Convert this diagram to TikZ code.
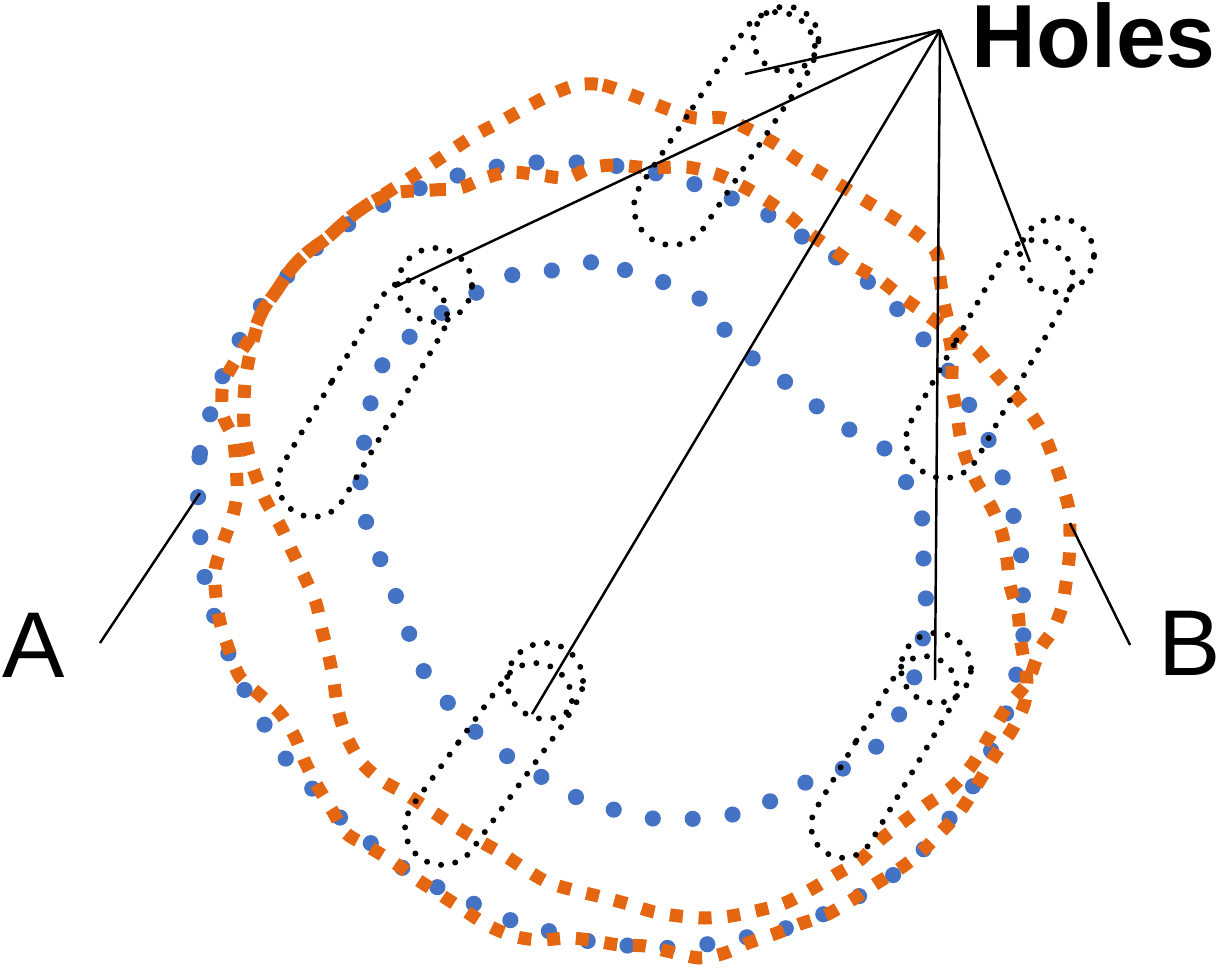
\documentclass[tikz,border=0pt]{standalone}
\usepackage{fontspec}
\setmainfont{Liberation Sans}
\usetikzlibrary{shapes.misc}

\definecolor{dotblue}{RGB}{68,114,196}
\definecolor{dashorange}{RGB}{228,102,16}

\begin{document}
\begin{tikzpicture}[x=0.1mm, y=-0.1mm,
    blueline/.style={draw=dotblue, line width=4.6pt, line cap=round, dash pattern=on 0pt off 11.4pt},
    orangeline/.style={draw=dashorange, line width=3.7pt, dash pattern=on 3.7pt off 4.5pt},
    holeline/.style={draw=black, line width=1.7pt, line cap=round, dash pattern=on 0pt off 4.1pt},
    holecap/.style={holeline, rounded rectangle, inner sep=0pt},
    leader/.style={draw=black, line width=0.7pt}]

    % Fix the size of the picture (pixel units, y pointing down)
    \useasboundingbox (0,0) rectangle (1219,969);

    % Outer blue contour
    \draw[blueline] plot[smooth cycle] coordinates {
      (198,493) (200,453) (210,415) (223,375) (245,330) (267,298) (295,268) (323,242)
      (355,220) (393,200) (428,185) (467,173) (507,165) (547,162) (585,163) (624,167)
      (663,175) (703,187) (740,202) (778,220) (807,240) (843,262) (875,288) (903,315)
      (928,345) (953,377) (973,412) (992,447) (1005,485) (1015,522) (1022,562) (1023,602)
      (1023,642) (1015,680) (1004,720) (989,755) (969,793) (946,823) (921,852) (889,878)
      (852,900) (817,917) (780,930) (743,938) (702,945) (662,948) (622,945) (582,940)
      (545,930) (504,918) (470,902) (433,885) (398,865) (367,840) (335,813) (309,785)
      (283,755) (263,722) (243,687) (227,650) (213,612) (204,573) (200,533)};

    % Inner blue ring
    \draw[blueline] plot[smooth cycle] coordinates {
      (595,262) (625,270) (663,282) (699,298) (723,328) (751,357) (784,381) (815,405)
      (850,430) (883,447) (903,477) (921,512) (923,552) (926,590) (924,622) (920,660)
      (907,695) (890,732) (861,759) (830,774) (794,787) (767,803) (741,813) (702,818)
      (663,820) (625,812) (588,803) (552,783) (518,763) (484,740) (457,712) (430,683)
      (414,647) (401,610) (387,573) (370,537) (362,498) (360,460) (368,428) (373,388)
      (390,353) (422,328) (453,305) (482,290) (518,273) (557,270)};

    % Orange contour along the outer blue one
    \draw[orangeline] plot[smooth cycle] coordinates {
      (393,193) (433,190) (460,188) (485,178) (510,172) (540,175) (567,178) (590,168)
      (616,165) (650,168) (687,167) (719,175) (744,187) (766,200) (790,217) (809,233)
      (833,250) (857,267) (880,280) (903,298) (927,315) (947,332) (952,357) (952,387)
      (957,413) (960,435) (966,458) (977,483) (992,508) (1002,533) (1007,560) (1010,585)
      (1018,613) (1020,637) (1024,660) (1027,683) (1024,705) (1012,730) (995,755) (980,780)
      (961,810) (943,830) (920,853) (898,870) (877,883) (852,900) (826,915) (800,924)
      (777,933) (748,943) (725,953) (700,958) (671,952) (645,946) (619,945) (590,940)
      (567,938) (539,940) (513,936) (487,925) (464,910) (438,893) (415,878) (395,863)
      (369,847) (346,833) (332,810) (318,787) (305,762) (295,737) (280,713) (260,695)
      (240,677) (229,650) (220,622) (216,597) (215,570) (223,543) (233,515) (237,493)
      (236,465) (233,438) (223,415) (223,385) (237,358) (252,335) (262,312) (277,290)
      (292,268) (308,252) (327,238) (347,220) (367,205)};

    % Second orange contour (high at the top, bulging to the right)
    \draw[orangeline] plot[smooth cycle] coordinates {
      (577,85) (603,85) (637,97) (670,110) (695,118) (723,118) (750,130) (774,143)
      (798,160) (821,173) (845,188) (869,203) (892,217) (916,233) (936,252) (940,278)
      (944,303) (952,328) (977,350) (995,373) (1013,393) (1030,413) (1045,437) (1055,463)
      (1063,487) (1069,510) (1070,537) (1069,560) (1066,583) (1062,607) (1053,630) (1041,647)
      (1035,663) (1027,683) (1007,707) (989,737) (972,765) (952,787) (926,805) (903,822)
      (880,840) (860,860) (835,875) (810,890) (785,903) (760,910) (731,916) (705,918)
      (679,916) (654,912) (628,904) (602,897) (573,890) (547,882) (522,867) (501,853)
      (478,840) (453,825) (427,808) (404,793) (381,780) (361,762) (346,735) (338,710)
      (334,683) (329,657) (322,630) (316,603) (305,578) (293,553) (281,527) (267,503)
      (257,480) (248,452) (244,428) (244,400) (246,375) (252,345) (262,312) (277,290)
      (292,268) (308,252) (327,238) (347,220) (367,205) (388,192) (410,178) (433,163)
      (455,148) (477,134) (500,122) (525,108) (550,95)};

    % Holes: a slot with a round hole at its upper end
    \node[holecap, minimum width=26.5mm, minimum height=7.6mm, rotate=56.2] (slot1) at (724.5,128.5) {};
    \node[holecap, minimum width=26.4mm, minimum height=7.0mm, rotate=59.3] (slot2) at (362.5,398.5) {};
    \node[holecap, minimum width=23.2mm, minimum height=7.4mm, rotate=54.0] (slot3) at (488.5,764) {};
    \node[holecap, minimum width=22.4mm, minimum height=6.4mm, rotate=59.3] (slot4) at (884,757) {};
    \node[holecap, minimum width=26.2mm, minimum height=7.6mm, rotate=60.7] (slot5) at (989.5,359) {};
    \draw[holeline] (786,39) circle (3.25mm);
    \draw[holeline] (435,285) circle (3.7mm);
    \draw[holeline] (545,681) circle (3.8mm);
    \draw[holeline] (936,668) circle (3.5mm);
    \draw[holeline] (1057,255) circle (3.7mm);

    % Labels
    \node[anchor=base west, inner sep=0pt, font=\fontsize{25.5}{25.5}\selectfont\bfseries] (holes) at (971,67) {Holes};
    \node[anchor=base west, inner sep=0pt, font=\fontsize{26.6}{26.6}\selectfont] (a) at (2,677) {A};
    \node[anchor=base west, inner sep=0pt, font=\fontsize{26.6}{26.6}\selectfont] (b) at (1158,675) {B};

    % End points of the leader lines
    \coordinate (apex) at (940,30);
    \coordinate (h1) at (745,74);
    \coordinate (h2) at (395,287);
    \coordinate (h3) at (532,714);
    \coordinate (h4) at (935,680);
    \coordinate (h5) at (1030,262);
    \coordinate (a1) at (100,643);
    \coordinate (a2) at (200,493);
    \coordinate (b1) at (1130,645);
    \coordinate (b2) at (1070,523);

    % Leader lines
    \foreach \h in {h1,h2,h3,h4,h5}
      \draw[leader] (apex) -- (\h);
    \draw[leader] (a1) -- (a2);
    \draw[leader] (b1) -- (b2);

\end{tikzpicture}
\end{document}
